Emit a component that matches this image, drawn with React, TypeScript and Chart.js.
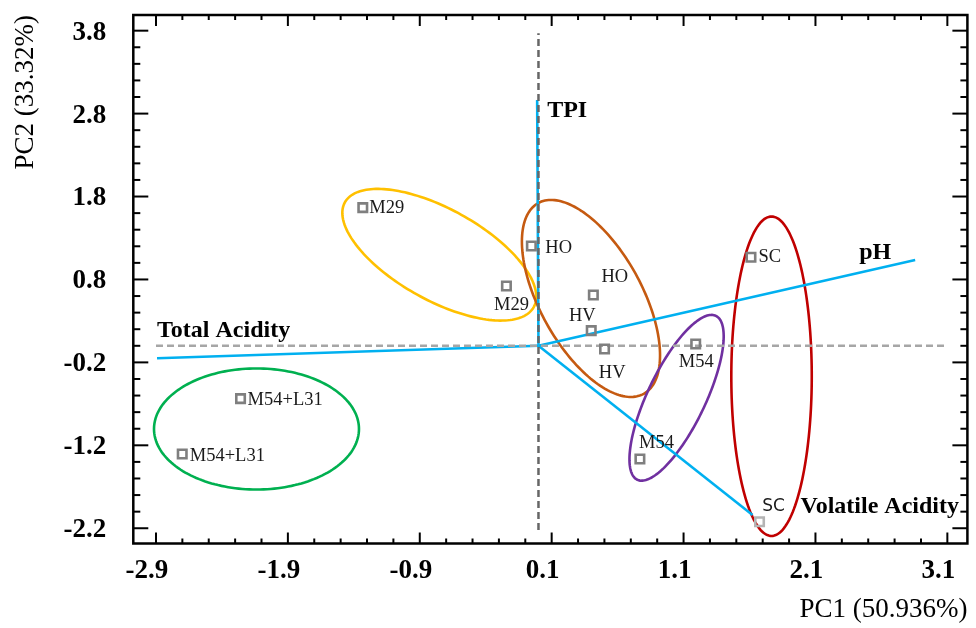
import React, { useEffect, useRef } from "react";
import { Chart, registerables } from "chart.js";

Chart.register(...registerables);

// ---------------- data ----------------
const xTickValues = [-2.9, -1.9, -0.9, 0.1, 1.1, 2.1, 3.1];
const yTickValues = [-2.2, -1.2, -0.2, 0.8, 1.8, 2.8, 3.8];
const xAxisRange = [-3.072, 3.252];
const yAxisRange = [-2.384, 3.989];
const xTitle = "PC1 (50.936%)";
const yTitle = "PC2 (33.32%)";

const sampleNames = ["M29", "M29", "HO", "HO", "HV", "HV", "M54", "M54", "SC", "SC", "M54+L31", "M54+L31"];
const samplePC1 = [-1.332, -0.243, -0.054, 0.416, 0.4, 0.501, 1.192, 0.769, 1.611, 1.676, -2.259, -2.701];
const samplePC2 = [1.666, 0.721, 1.204, 0.613, 0.183, -0.038, 0.022, -1.365, 1.067, -2.121, -0.637, -1.305];

const variableNames = ["TPI", "pH", "Total Acidity", "Volatile Acidity"];
const variablePC1 = [-0.01, 2.856, -2.892, 1.623];
const variablePC2 = [2.964, 1.035, -0.15, -2.04];

const zeroLinePC1Extent = [-2.9, 3.1];
const zeroLinePC2Extent = [-2.22, 3.77];

const groupNames = ["M29", "HO/HV", "M54", "SC", "M54+L31"];
const groupCenterPC1 = [-0.752, 0.398, 1.047, 1.767, -2.138];
const groupCenterPC2 = [1.098, 0.571, -0.627, -0.367, -1.003];
const groupAxisAPC1 = [0.716, 0.4, 0.298, 0, 0.777];
const groupAxisAPC2 = [-0.631, -1.15, 0.988, 1.926, 0];
const groupAxisBPC1 = [-0.167, -0.338, 0.197, 0.305, 0];
const groupAxisBPC2 = [-0.482, -0.298, -0.151, 0, 0.73];

// ---------------- styles ----------------
const SERIF = "'Liberation Serif', 'Times New Roman', serif";
const GROUP_COLORS = ["#ffc000", "#c55a11", "#7030a0", "#c00000", "#00b050"];
const VECTOR_COLOR = "#00b0f0";
const SAMPLE_BORDER = ["#7f7f7f", "#7f7f7f", "#7f7f7f", "#7f7f7f", "#7f7f7f", "#7f7f7f", "#7f7f7f", "#7f7f7f", "#7f7f7f", "#b4b4b4", "#7f7f7f", "#7f7f7f"];
// [dx, dy, align] relative to the marker (pixels)
const SAMPLE_LABEL_PLACEMENT: [number, number, CanvasTextAlign][] = [
  [6.5, 0, "left"],
  [5, 19, "center"],
  [14, 2, "left"],
  [21.5, -18, "center"],
  [-9, -14, "center"],
  [7.6, 24, "center"],
  [0.5, 18, "center"],
  [16.5, -16, "center"],
  [7.5, 0, "left"],
  [14, -15, "center"],
  [7, 1.3, "left"],
  [7.5, 2, "left"],
];
const SAMPLE_LABEL_FONT = [0, 0, 0, 0, 0, 0, 0, 0, 0, 1, 0, 0];
// [dx, dy(baseline), align] relative to vector tip
const VARIABLE_LABEL_PLACEMENT: [number, number, CanvasTextAlign][] = [
  [10, 17, "left"],
  [-24, -1, "right"],
  [0, -21, "left"],
  [48, -2, "left"],
];

const overlayPlugin = {
  id: "pcaOverlay",
  beforeDatasetsDraw(chart: any) {
    const { ctx, chartArea } = chart;
    const x = chart.scales.x;
    const y = chart.scales.y;
    ctx.save();
    ctx.beginPath();
    ctx.rect(chartArea.left, chartArea.top, chartArea.right - chartArea.left, chartArea.bottom - chartArea.top);
    ctx.clip();
    groupNames.forEach((_, i) => {
      const cx = x.getPixelForValue(groupCenterPC1[i]);
      const cy = y.getPixelForValue(groupCenterPC2[i]);
      const ax = x.getPixelForValue(groupCenterPC1[i] + groupAxisAPC1[i]) - cx;
      const ay = y.getPixelForValue(groupCenterPC2[i] + groupAxisAPC2[i]) - cy;
      const bx = x.getPixelForValue(groupCenterPC1[i] + groupAxisBPC1[i]) - cx;
      const by = y.getPixelForValue(groupCenterPC2[i] + groupAxisBPC2[i]) - cy;
      ctx.beginPath();
      const steps = 180;
      for (let k = 0; k <= steps; k++) {
        const t = (k / steps) * Math.PI * 2;
        const px = cx + Math.cos(t) * ax + Math.sin(t) * bx;
        const py = cy + Math.cos(t) * ay + Math.sin(t) * by;
        if (k === 0) ctx.moveTo(px, py);
        else ctx.lineTo(px, py);
      }
      ctx.closePath();
      ctx.strokeStyle = GROUP_COLORS[i];
      ctx.lineWidth = 2.6;
      ctx.stroke();
    });
    ctx.restore();
  },
  afterDatasetsDraw(chart: any) {
    const { ctx } = chart;
    const x = chart.scales.x;
    const y = chart.scales.y;
    ctx.save();
    ctx.textBaseline = "middle";
    ctx.fillStyle = "#1a1a1a";
    sampleNames.forEach((name, i) => {
      const px = x.getPixelForValue(samplePC1[i]);
      const py = y.getPixelForValue(samplePC2[i]);
      const [dx, dy, align] = SAMPLE_LABEL_PLACEMENT[i];
      ctx.font = SAMPLE_LABEL_FONT[i] ? "17px 'DejaVu Sans', sans-serif" : `18.5px ${SERIF}`;
      ctx.textAlign = align;
      ctx.fillText(name, px + dx, py + dy);
    });
    ctx.textBaseline = "alphabetic";
    ctx.fillStyle = "#000";
    ctx.font = `bold 24px ${SERIF}`;
    variableNames.forEach((name, i) => {
      const px = x.getPixelForValue(variablePC1[i]);
      const py = y.getPixelForValue(variablePC2[i]);
      const [dx, dy, align] = VARIABLE_LABEL_PLACEMENT[i];
      ctx.textAlign = align;
      ctx.fillText(name, px + dx, py + dy);
    });
    ctx.restore();
  },
  afterDraw(chart: any) {
    const { ctx, chartArea } = chart;
    const x = chart.scales.x;
    const y = chart.scales.y;
    const { left, right, top, bottom } = chartArea;
    ctx.save();
    ctx.strokeStyle = "#000";
    ctx.lineWidth = 2.5;
    ctx.strokeRect(left, top, right - left, bottom - top);
    ctx.lineWidth = 2;
    const tick = (x1: number, y1: number, x2: number, y2: number) => {
      ctx.beginPath();
      ctx.moveTo(x1, y1);
      ctx.lineTo(x2, y2);
      ctx.stroke();
    };
    xTickValues.forEach((v, i) => {
      const px = x.getPixelForValue(v);
      tick(px, bottom, px, bottom - 11);
      tick(px, top, px, top + 11);
      if (i < xTickValues.length - 1) {
        for (let k = 1; k < 5; k++) {
          const mx = x.getPixelForValue(v + k * 0.2);
          tick(mx, bottom, mx, bottom - 5);
          tick(mx, top, mx, top + 5);
        }
      }
    });
    yTickValues.forEach((v, i) => {
      const py = y.getPixelForValue(v);
      tick(left, py, left + 15, py);
      tick(right, py, right - 15, py);
      if (i < yTickValues.length - 1) {
        for (let k = 1; k < 5; k++) {
          const my = y.getPixelForValue(v + k * 0.2);
          tick(left, my, left + 7, my);
          tick(right, my, right - 7, my);
        }
      }
    });
    ctx.restore();
  },
};

export default function App() {
  const canvasRef = useRef<HTMLCanvasElement | null>(null);

  useEffect(() => {
    if (!canvasRef.current) return;
    const datasets: any[] = [
      {
        label: "samples",
        data: samplePC1.map((v, i) => ({ x: v, y: samplePC2[i] })),
        pointStyle: "rect",
        pointRadius: 6,
        pointBorderWidth: 2.6,
        pointBorderColor: SAMPLE_BORDER,
        pointBackgroundColor: "rgba(255,255,255,0)",
        showLine: false,
      },
      {
        label: "PC2 zero",
        data: zeroLinePC2Extent.map((v) => ({ x: 0, y: v })),
        showLine: true,
        borderColor: "#666666",
        borderWidth: 2.5,
        borderDash: [7, 4],
        pointRadius: 0,
      },
      {
        label: "PC1 zero",
        data: zeroLinePC1Extent.map((v) => ({ x: v, y: 0 })),
        showLine: true,
        borderColor: "#a6a6a6",
        borderWidth: 2.4,
        borderDash: [7, 4],
        pointRadius: 0,
      },
      ...variableNames.map((name, i) => ({
        label: name,
        data: [
          { x: 0, y: 0 },
          { x: variablePC1[i], y: variablePC2[i] },
        ],
        showLine: true,
        borderColor: VECTOR_COLOR,
        borderWidth: 2.6,
        pointRadius: 0,
      })),
    ];

    const chart = new Chart(canvasRef.current, {
      type: "scatter",
      data: { datasets },
      plugins: [overlayPlugin],
      options: {
        animation: false,
        responsive: false,
        devicePixelRatio: 1,
        events: [],
        layout: { padding: { left: 0, top: 15, right: 6.7, bottom: 0 } },
        plugins: { legend: { display: false }, tooltip: { enabled: false } },
        scales: {
          x: {
            type: "linear",
            min: xAxisRange[0],
            max: xAxisRange[1],
            afterBuildTicks: (s: any) => {
              s.ticks = xTickValues.map((v) => ({ value: v }));
            },
            afterFit: (s: any) => {
              s.height = 84.5;
              s.paddingLeft = 0;
              s.paddingRight = 0;
            },
            grid: { display: false, drawTicks: false },
            border: { display: false },
            ticks: {
              autoSkip: false,
              maxRotation: 0,
              padding: 11,
              labelOffset: -9,
              color: "#000",
              font: { family: SERIF, size: 27, weight: "bold" },
              callback: (v: any) => Number(v).toFixed(1),
            },
            title: {
              display: true,
              text: xTitle,
              align: "end",
              color: "#000",
              font: { family: SERIF, size: 27 },
              padding: { top: 0, bottom: 2 },
            },
          },
          y: {
            type: "linear",
            min: yAxisRange[0],
            max: yAxisRange[1],
            afterBuildTicks: (s: any) => {
              s.ticks = yTickValues.map((v) => ({ value: v }));
            },
            afterFit: (s: any) => {
              s.width = 133.3;
              s.paddingTop = 0;
              s.paddingBottom = 0;
            },
            grid: { display: false, drawTicks: false },
            border: { display: false },
            ticks: {
              autoSkip: false,
              padding: 27,
              labelOffset: 2,
              color: "#000",
              font: { family: SERIF, size: 27, weight: "bold" },
              callback: (v: any) => Number(v).toFixed(1),
            },
            title: {
              display: true,
              text: yTitle,
              align: "end",
              color: "#000",
              font: { family: SERIF, size: 27 },
              padding: { top: 10, bottom: 0 },
            },
          },
        },
      } as any,
    });
    return () => chart.destroy();
  }, []);

  return (
    <div style={{ position: "absolute", left: 0, top: 0, width: 976, height: 628, background: "#fff" }}>
      <canvas ref={canvasRef} width={976} height={628} style={{ display: "block", width: 976, height: 628 }} />
    </div>
  );
}
